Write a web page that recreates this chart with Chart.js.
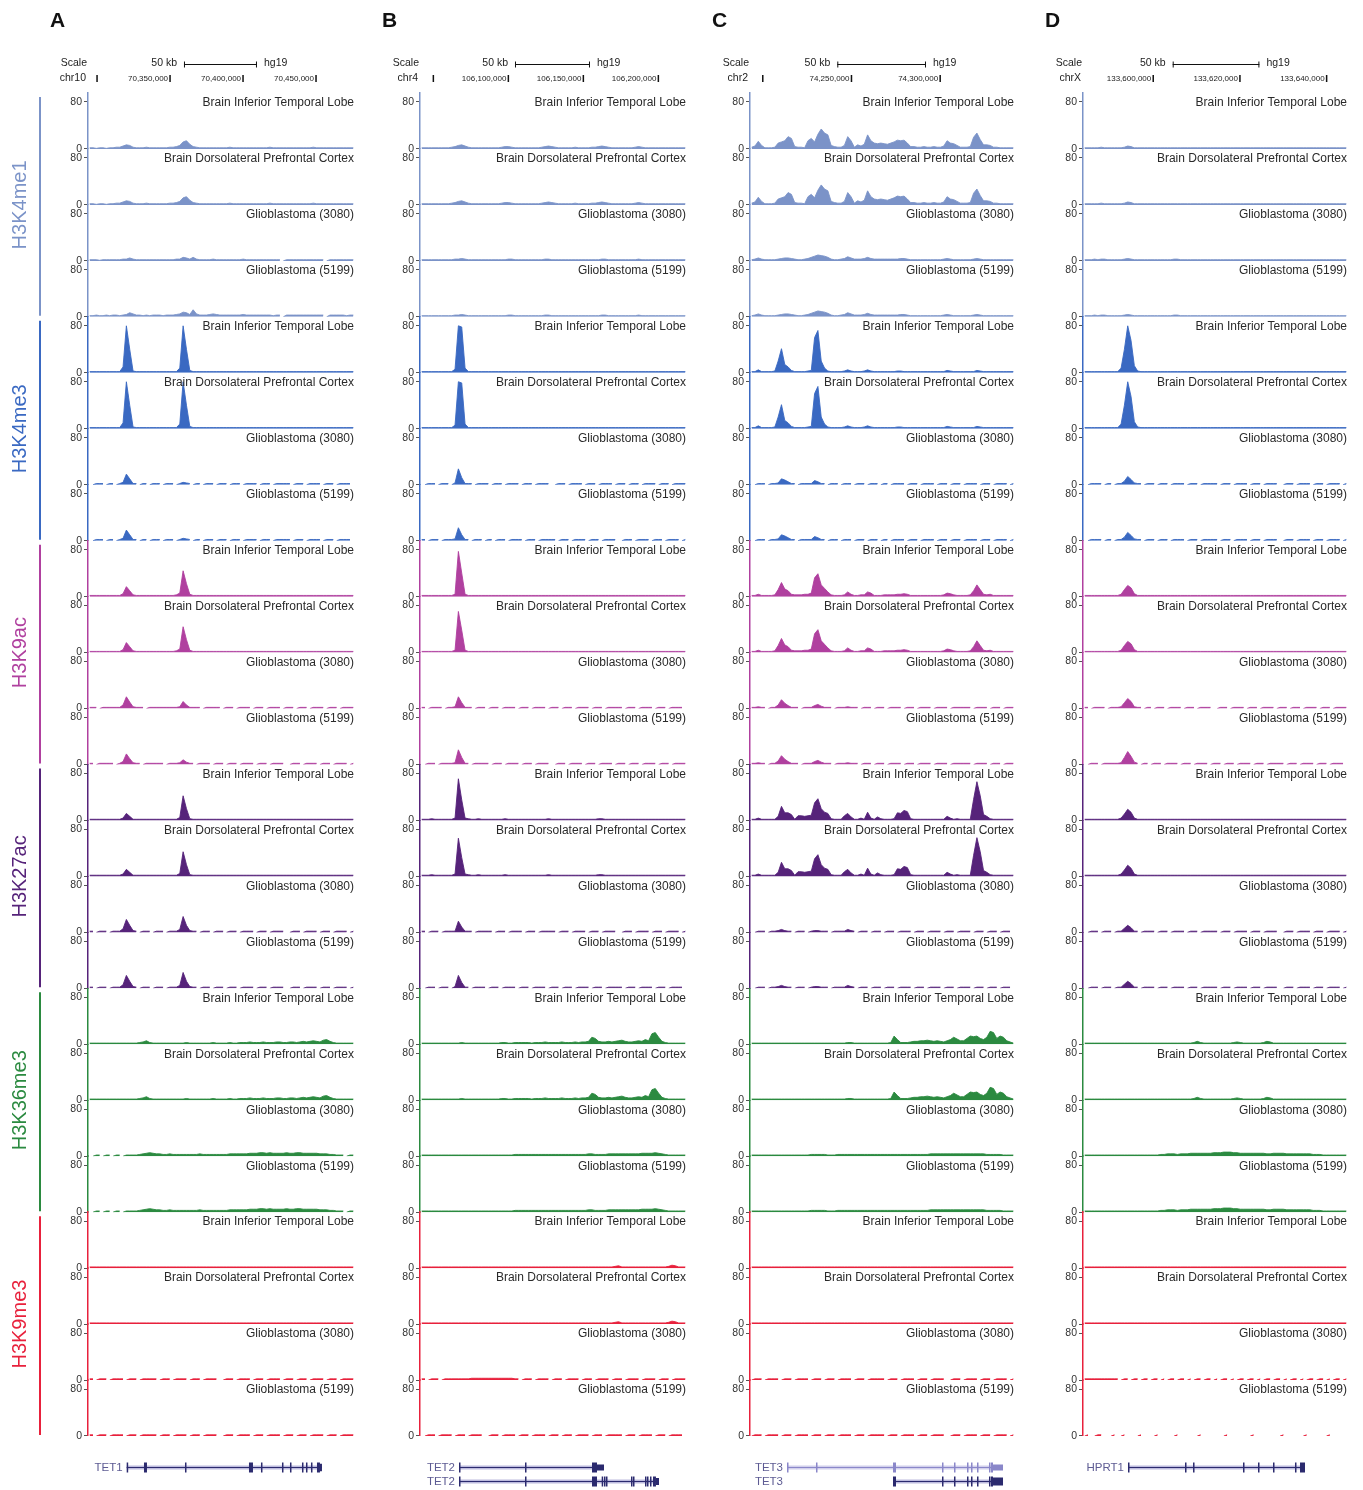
<!DOCTYPE html>
<html>
<head>
<meta charset="utf-8">
<title>Histone marks at TET1, TET2, TET3 and HPRT1</title>
<script src="https://cdn.jsdelivr.net/npm/chart.js@4.4.1/dist/chart.umd.min.js"></script>
<style>
  html, body { margin: 0; padding: 0; background: #ffffff; }
  #wrap { position: relative; width: 1363px; height: 1490px; overflow: hidden; }
  #wrap canvas { position: absolute; left: 0; top: 0; }
</style>
</head>
<body>
<div id="wrap">
  <canvas id="colA" width="1363" height="1490"></canvas>
  <canvas id="colB" width="1363" height="1490"></canvas>
  <canvas id="colC" width="1363" height="1490"></canvas>
  <canvas id="colD" width="1363" height="1490"></canvas>
</div>
<script>
// ---------------------------------------------------------------------------
// Labels
// ---------------------------------------------------------------------------
const marks = ['H3K4me1', 'H3K4me3', 'H3K9ac', 'H3K27ac', 'H3K36me3', 'H3K9me3'];
const samples = ['Brain Inferior Temporal Lobe', 'Brain Dorsolateral Prefrontal Cortex',
                 'Glioblastoma (3080)', 'Glioblastoma (5199)'];
const trackTicks = [0, 80];
const assembly = 'hg19';

// ---------------------------------------------------------------------------
// Signal, 80 equal bins across each window (A: TET1, B: TET2, C: TET3, D: HPRT1)
// ---------------------------------------------------------------------------
// ---- A / TET1 ----
const A_K4me1_brain = [
  2,2,1,2,2,1,2,2,3,3,5,7,6,3,2,2,2,3,2,2,
  2,2,2,2,3,3,4,6,12,14,8,4,3,2,2,2,2,2,2,2,
  2,2,3,2,2,2,2,2,2,2,2,2,2,2,3,2,2,2,2,2,
  2,2,2,2,2,2,2,3,2,2,2,2,2,2,2,2,2,2,2,2];
const A_K4me1_g3080 = [
  2,2,2,1,2,2,2,2,2,2,3,3,5,3,2,2,2,2,2,2,
  2,2,2,2,2,2,3,3,6,5,3,6,3,2,2,2,2,3,2,2,
  2,2,2,2,2,2,3,2,2,2,2,2,2,2,2,2,2,2,0,2,
  2,2,2,2,2,2,2,2,2,2,2,0,2,2,2,2,2,2,2,2];
const A_K4me1_g5199 = [
  2,2,3,2,2,3,2,3,3,2,3,4,7,5,3,3,2,3,2,3,
  3,3,2,3,3,3,4,5,8,7,4,12,5,3,3,3,4,5,4,3,
  3,3,3,3,3,3,4,3,3,3,3,3,3,3,3,2,3,3,0,3,
  3,3,3,3,3,3,3,3,3,3,3,0,3,3,3,3,3,2,3,3];
const A_K4me3_brain = [
  2,2,2,2,2,2,2,2,2,2,10,80,40,3,2,2,2,2,2,2,
  2,2,2,2,2,2,2,8,80,40,4,2,2,2,2,2,2,2,2,2,
  2,2,2,2,2,2,2,2,2,2,2,2,2,2,2,2,2,2,2,2,
  2,2,2,2,2,2,2,2,2,2,2,2,2,2,2,2,2,2,2,2];
const A_K4me3_gbm = [
  2,0,2,2,2,0,2,2,0,2,4,18,10,2,2,0,2,2,0,2,
  2,2,0,2,2,2,0,2,4,3,2,0,2,2,0,2,2,2,0,2,
  2,2,0,2,2,2,0,2,2,2,2,0,2,2,2,0,2,2,2,2,
  2,0,2,2,2,0,2,2,2,2,0,2,2,2,0,2,2,2,2,0];
const A_K9ac_brain = [
  2,2,2,2,2,2,2,2,2,2,5,17,10,3,2,2,2,2,2,2,
  2,2,2,2,2,2,3,6,44,22,4,2,2,2,2,2,2,2,2,2,
  2,2,2,2,2,2,2,2,2,2,2,2,2,2,2,2,2,2,2,2,
  2,2,2,2,2,2,2,2,2,2,2,2,2,2,2,2,2,2,2,2];
const A_K9ac_g3080 = [
  2,2,2,0,2,2,2,2,2,2,6,20,11,3,2,2,2,0,2,2,
  2,2,2,2,2,2,2,3,12,6,2,2,2,2,0,2,2,2,2,2,
  0,2,2,2,0,2,2,2,2,0,2,2,2,0,2,2,2,2,0,2,
  2,2,0,2,2,2,0,2,2,2,2,0,2,2,2,0,2,2,2,2];
const A_K9ac_g5199 = [
  2,2,0,2,2,2,2,2,0,2,5,18,10,3,2,2,0,2,2,2,
  2,2,2,0,2,2,2,3,8,4,2,2,0,2,2,2,2,0,2,2,
  2,0,2,2,2,0,2,2,2,2,0,2,2,2,0,2,2,2,2,0,
  0,2,2,2,0,2,2,2,2,0,2,2,2,0,2,2,2,2,0,2];
const A_K27ac_brain = [
  2,2,2,2,2,2,2,2,2,2,4,12,7,2,2,2,2,2,2,2,
  2,2,2,2,2,2,2,5,42,20,3,2,2,2,2,2,2,2,2,2,
  2,2,2,2,2,2,2,2,2,2,2,2,2,2,2,2,2,2,2,2,
  2,2,2,2,2,2,2,2,2,2,2,2,2,2,2,2,2,2,2,2];
const A_K27ac_gbm = [
  2,2,0,2,2,2,0,2,2,2,6,22,12,3,2,0,2,2,2,0,
  2,2,2,0,2,2,2,5,27,12,3,2,2,0,2,2,2,0,2,2,
  2,0,2,2,2,0,2,2,2,2,0,2,2,2,0,2,2,2,2,0,
  0,2,2,2,0,2,2,2,2,0,2,2,2,0,2,2,2,2,0,2];
const A_K36me3_brain = [
  2,2,2,2,2,2,2,2,2,2,2,2,2,2,2,3,4,6,3,2,
  2,2,2,2,2,2,2,2,2,3,2,2,2,2,2,2,2,3,2,2,
  2,2,3,2,2,3,3,3,4,3,3,3,4,3,3,3,4,4,3,3,
  4,4,3,4,5,4,5,6,5,4,7,8,5,3,2,2,2,2,2,2];
const A_K36me3_gbm = [
  2,0,2,2,0,2,2,0,2,2,0,2,2,2,2,3,4,5,6,5,
  4,4,3,3,4,3,3,3,3,3,3,3,3,4,3,3,3,3,3,3,
  3,3,4,4,4,4,4,4,5,5,5,6,6,5,6,5,5,5,5,6,
  5,5,6,6,5,5,5,5,5,4,4,4,3,3,2,2,2,0,2,2];
const A_K9me3_brain = [
  2,2,2,2,2,2,2,2,2,2,2,2,2,2,2,2,2,2,2,2,
  2,2,2,2,2,2,2,2,2,2,2,2,2,2,2,2,2,2,2,2,
  2,2,2,2,2,2,2,2,2,2,2,2,2,2,2,2,2,2,2,2,
  2,2,2,2,2,2,2,2,2,2,2,2,2,2,2,2,2,2,2,2];
const A_K9me3_gbm = [
  2,2,0,2,2,2,0,2,2,2,2,0,2,2,2,0,2,2,2,2,
  2,0,2,2,2,0,2,2,2,2,0,2,2,2,0,2,2,2,2,0,
  0,2,2,2,0,2,2,2,2,0,2,2,2,0,2,2,2,2,0,2,
  2,2,0,2,2,2,0,2,2,2,2,0,2,2,2,0,2,2,2,2];

// ---- B / TET2 ----
const B_K4me1_brain = [
  2,2,2,2,2,2,2,2,2,3,4,6,7,5,3,2,2,2,2,2,
  2,2,2,2,3,4,4,3,2,2,2,2,2,2,2,2,3,4,5,4,
  3,2,2,2,2,2,3,2,2,2,2,3,3,4,5,4,3,2,2,2,
  2,2,2,2,3,4,3,2,2,2,2,2,2,2,2,2,2,2,2,2];
const B_K4me1_gbm = [
  2,2,2,2,2,2,2,2,2,2,3,3,4,3,2,2,2,2,2,2,
  2,2,2,2,2,2,3,3,2,2,2,2,2,2,2,2,2,3,3,2,
  2,2,2,2,2,2,2,2,2,2,2,2,2,2,3,3,2,2,2,2,
  2,2,2,2,2,3,2,2,2,2,2,2,2,2,2,2,2,2,2,2];
const B_K4me3_brain = [
  2,2,2,2,2,2,2,2,2,2,6,80,78,8,2,2,2,2,2,2,
  2,2,2,2,2,2,2,2,2,2,2,2,2,2,2,2,2,2,2,2,
  2,2,2,2,2,2,2,2,2,2,2,2,2,2,2,2,2,2,2,2,
  2,2,2,2,2,2,2,2,2,2,2,2,2,2,2,2,2,2,2,2];
const B_K4me3_g3080 = [
  2,0,2,2,2,0,2,2,2,0,3,27,12,2,2,2,0,2,2,2,
  2,0,2,2,2,0,2,2,2,2,0,2,2,2,0,2,2,2,2,0,
  0,2,2,2,0,2,2,2,2,0,2,2,2,0,2,2,2,2,0,2,
  2,2,0,2,2,2,0,2,2,2,2,0,2,2,2,0,2,2,2,2];
const B_K4me3_g5199 = [
  2,2,0,2,2,2,0,2,2,2,3,22,10,2,2,0,2,2,2,0,
  2,2,0,2,2,2,0,2,2,2,2,0,2,2,2,0,2,2,2,2,
  2,0,2,2,2,0,2,2,2,2,0,2,2,2,0,2,2,2,2,0,
  0,2,2,2,0,2,2,2,2,0,2,2,2,0,2,2,2,2,0,2];
const B_K9ac_itl = [
  2,2,2,2,2,2,2,2,2,2,4,77,40,4,2,2,2,2,2,2,
  2,2,2,2,2,2,2,2,2,2,2,2,2,2,2,2,2,2,2,2,
  2,2,2,2,2,2,2,2,2,2,2,2,2,2,2,2,2,2,2,2,
  2,2,2,2,2,2,2,2,2,2,2,2,2,2,2,2,2,2,2,2];
const B_K9ac_dlpfc = [
  2,2,2,2,2,2,2,2,2,2,4,70,38,4,2,2,2,2,2,2,
  2,2,2,2,2,2,2,2,2,2,2,2,2,2,2,2,2,2,2,2,
  2,2,2,2,2,2,2,2,2,2,2,2,2,2,2,2,2,2,2,2,
  2,2,2,2,2,2,2,2,2,2,2,2,2,2,2,2,2,2,2,2];
const B_K9ac_g3080 = [
  2,2,0,2,2,2,2,0,2,2,3,20,10,2,2,2,0,2,2,2,
  0,2,2,2,0,2,2,2,2,0,2,2,2,0,2,2,2,2,0,2,
  2,2,0,2,2,2,0,2,2,2,2,0,2,2,2,0,2,2,2,2,
  2,0,2,2,2,0,2,2,2,2,0,2,2,2,0,2,2,2,2,0];
const B_K9ac_g5199 = [
  2,0,2,2,2,0,2,2,2,2,3,25,12,2,2,0,2,2,2,2,
  2,0,2,2,2,0,2,2,2,2,0,2,2,2,0,2,2,2,2,0,
  0,2,2,2,0,2,2,2,2,0,2,2,2,0,2,2,2,2,0,2,
  2,2,0,2,2,2,0,2,2,2,2,0,2,2,2,0,2,2,2,2];
const B_K27ac_itl = [
  2,2,2,3,2,2,2,2,2,2,4,71,35,4,3,2,2,3,2,2,
  2,2,2,2,2,3,2,2,2,2,2,2,2,2,2,2,2,2,3,2,
  2,2,2,2,2,2,2,2,2,2,2,2,2,3,3,2,2,2,2,2,
  2,2,2,2,2,2,2,2,2,2,2,2,2,2,2,2,2,2,2,2];
const B_K27ac_dlpfc = [
  2,2,2,3,2,2,2,2,2,2,4,65,32,4,3,2,2,3,2,2,
  2,2,2,2,2,3,2,2,2,2,2,2,2,2,2,2,2,2,3,2,
  2,2,2,2,2,2,2,2,2,2,2,2,2,3,3,2,2,2,2,2,
  2,2,2,2,2,2,2,2,2,2,2,2,2,2,2,2,2,2,2,2];
const B_K27ac_g3080 = [
  2,2,0,2,2,2,0,2,2,2,2,19,9,2,2,2,0,2,2,2,
  2,2,0,2,2,2,0,2,2,2,2,0,2,2,2,0,2,2,2,2,
  2,0,2,2,2,0,2,2,2,2,0,2,2,2,0,2,2,2,2,0,
  0,2,2,2,0,2,2,2,2,0,2,2,2,0,2,2,2,2,0,2];
const B_K27ac_g5199 = [
  2,0,2,2,2,0,2,2,2,0,3,22,10,2,2,0,2,2,2,2,
  0,2,2,2,0,2,2,2,2,0,2,2,2,0,2,2,2,2,0,2,
  2,2,0,2,2,2,0,2,2,2,2,0,2,2,2,0,2,2,2,2,
  2,0,2,2,2,0,2,2,2,2,0,2,2,2,0,2,2,2,2,0];
const B_K36me3_brain = [
  2,2,2,2,2,2,2,2,2,2,2,2,3,2,2,2,2,2,2,2,
  2,2,2,2,3,3,2,2,3,3,3,3,3,2,3,3,3,4,3,3,
  3,3,4,3,3,3,4,3,4,4,5,12,10,5,4,4,5,4,5,6,
  7,5,4,4,5,6,5,8,6,18,20,12,5,3,2,2,2,2,2,2];
const B_K36me3_gbm = [
  2,2,2,2,2,2,2,2,2,2,2,2,2,2,2,2,2,2,2,2,
  2,2,2,2,2,2,2,2,3,3,3,3,3,3,3,3,3,3,3,3,
  3,3,3,3,3,3,3,3,3,3,4,4,3,3,3,3,4,4,4,4,
  4,4,4,4,4,4,5,5,5,5,6,5,4,3,2,2,2,2,2,2];
const B_K9me3_brain = [
  2,2,2,2,2,2,2,2,2,2,2,2,2,2,2,2,2,2,2,2,
  2,2,2,2,2,2,2,2,2,2,2,2,2,2,2,2,2,2,2,2,
  2,2,2,2,2,2,2,2,2,2,2,2,2,2,2,2,2,2,3,4,
  2,2,2,2,2,2,2,2,2,2,2,2,2,2,3,5,4,2,2,2];
const B_K9me3_g3080 = [
  2,2,0,2,2,2,0,2,2,2,2,2,2,2,2,3,3,3,3,3,
  3,3,3,3,3,3,3,3,2,2,0,2,2,2,0,2,2,2,2,0,
  2,2,2,0,2,2,2,2,0,2,2,2,0,2,2,2,2,0,2,2,
  2,0,2,2,2,2,0,2,2,2,2,0,2,2,2,0,2,2,2,2];
const B_K9me3_g5199 = [
  2,0,2,2,2,0,2,2,2,2,0,2,2,2,0,2,2,2,2,0,
  0,2,2,2,0,2,2,2,2,0,2,2,2,0,2,2,2,2,0,2,
  2,2,0,2,2,2,0,2,2,2,2,0,2,2,2,0,2,2,2,2,
  2,0,2,2,2,0,2,2,2,2,0,2,2,2,0,2,2,2,2,0];

// ---- C / TET3 ----
const C_K4me1_brain = [
  3,5,13,6,2,2,2,3,10,12,14,21,18,4,3,3,2,14,18,12,
  25,34,27,24,6,4,3,3,6,21,14,3,7,5,8,24,14,10,9,10,
  9,8,10,12,15,14,15,10,4,4,3,3,4,3,3,4,3,3,5,14,
  10,9,6,3,3,3,4,20,27,16,7,7,6,3,3,2,2,2,2,2];
const C_K4me1_gbm = [
  2,3,5,3,2,2,2,2,3,4,5,5,4,3,2,2,3,4,6,8,
  10,9,8,6,3,2,2,3,4,7,5,3,3,3,4,6,4,3,3,3,
  3,3,3,3,3,4,4,3,2,2,2,2,2,2,2,2,2,2,3,4,
  3,2,2,2,2,2,2,3,4,3,2,2,2,2,2,2,2,2,2,2];
const C_K4me3_brain = [
  2,2,5,2,2,2,2,3,20,41,14,10,4,2,2,2,2,3,4,60,
  72,20,8,3,2,2,2,2,3,5,3,2,2,2,3,5,3,2,2,2,
  2,2,2,2,3,3,2,2,2,2,2,2,2,2,2,2,2,2,2,4,
  3,2,2,2,2,2,2,2,4,3,2,2,2,2,2,2,2,2,2,2];
const C_K4me3_gbm = [
  2,0,2,2,2,0,2,2,3,10,8,5,2,2,0,2,2,2,2,7,
  5,2,2,0,2,2,2,0,2,2,2,0,2,2,2,0,2,2,2,0,
  2,2,0,2,2,2,2,0,2,2,2,0,2,2,2,2,0,2,2,2,
  0,2,2,2,0,2,2,2,2,0,2,2,2,0,2,2,2,2,0,2];
const C_K9ac_brain = [
  2,2,4,2,2,2,2,3,12,24,13,10,4,3,3,3,4,4,6,32,
  39,20,14,8,3,2,2,2,3,8,4,2,2,3,3,8,6,2,2,2,
  3,3,3,3,4,4,5,4,2,2,2,2,2,2,2,2,2,2,3,6,
  5,3,2,2,2,2,3,10,20,12,4,3,4,2,2,2,2,2,2,2];
const C_K9ac_gbm = [
  2,2,3,2,2,0,2,2,6,15,9,5,2,2,2,0,2,2,2,5,
  7,4,2,2,2,0,2,2,2,3,2,2,2,0,2,2,2,0,2,2,
  2,0,2,2,2,2,0,2,2,2,0,2,2,2,2,0,2,2,2,2,
  0,2,2,2,2,2,2,0,2,2,2,2,0,2,2,2,0,2,2,2];
const C_K27ac_brain = [
  2,2,4,2,2,2,2,2,7,24,13,13,10,2,8,8,7,8,9,30,
  37,20,14,12,3,2,2,2,8,12,6,2,2,4,2,14,4,2,6,3,
  2,2,2,3,13,12,17,15,3,2,2,2,2,2,2,2,2,2,2,7,
  4,2,3,2,2,2,2,36,66,42,10,7,3,2,2,2,2,2,2,2];
const C_K27ac_gbm = [
  2,0,2,2,2,0,2,2,3,5,3,2,2,0,2,2,2,0,2,3,
  3,2,2,2,0,2,2,2,2,5,3,2,0,2,2,2,0,2,2,2,
  0,2,2,2,0,2,2,2,2,0,2,2,2,0,2,2,2,2,0,2,
  2,2,0,2,2,2,2,0,2,2,2,0,2,2,2,0,2,2,2,0];
const C_K36me3_brain = [
  2,2,2,2,2,2,2,2,2,2,2,2,2,2,2,2,2,2,2,2,
  2,2,2,2,2,2,2,2,2,3,3,2,2,2,2,2,2,2,2,2,
  2,2,3,14,8,3,3,3,4,5,5,6,6,7,6,5,6,5,4,6,
  8,12,9,6,6,10,14,13,14,10,8,12,22,20,10,14,12,6,4,2];
const C_K36me3_gbm = [
  2,2,2,2,2,2,2,2,2,2,2,2,2,2,2,2,2,2,3,3,
  3,3,3,2,2,2,3,3,3,3,3,3,3,3,3,3,3,3,3,3,
  3,3,3,3,3,3,3,3,3,3,3,3,3,3,4,4,4,4,4,4,
  4,4,4,4,4,4,4,4,4,4,4,3,3,3,3,3,2,2,2,2];
const C_K9me3_brain = [
  2,2,2,2,2,2,2,2,2,2,2,2,2,2,2,2,2,2,2,2,
  2,2,2,2,2,2,2,2,2,2,2,2,2,2,2,2,2,2,2,2,
  2,2,2,2,2,2,2,2,2,2,2,2,2,2,2,2,2,2,2,2,
  2,2,2,2,2,2,2,2,2,2,2,2,2,2,2,2,2,2,2,2];
const C_K9me3_gbm = [
  0,2,2,2,0,2,2,2,2,0,2,2,2,0,2,2,2,2,0,2,
  2,2,0,2,2,2,0,2,2,2,2,0,2,2,2,0,2,2,2,2,
  2,0,2,2,2,0,2,2,2,2,0,2,2,2,0,2,2,2,2,0,
  0,2,2,2,0,2,2,2,2,0,2,2,2,0,2,2,2,2,0,2];

// ---- D / HPRT1 ----
const D_K4me1_brain = [
  2,2,2,2,2,3,2,2,2,2,2,2,3,5,4,2,2,2,2,2,
  2,2,2,2,2,2,2,2,2,2,2,2,2,2,2,2,2,2,2,2,
  2,2,2,2,2,2,2,2,2,2,2,2,2,2,2,2,2,2,2,2,
  2,2,2,2,2,2,2,2,2,2,2,2,2,2,2,2,2,2,2,2];
const D_K4me1_gbm = [
  2,2,2,3,2,3,3,2,2,2,2,2,3,4,3,2,2,2,2,2,
  2,2,2,2,2,2,2,3,3,2,2,2,2,2,2,2,2,2,2,2,
  2,2,2,2,2,2,2,2,2,2,2,2,2,2,2,2,2,2,2,2,
  2,2,2,2,2,2,2,2,2,2,2,2,2,2,2,2,2,2,2,2];
const D_K4me3_brain = [
  2,2,2,2,2,2,2,2,2,2,2,8,40,80,55,12,3,2,2,2,
  2,2,2,2,2,2,2,2,2,2,2,2,2,2,2,2,2,2,2,2,
  2,2,2,2,2,2,2,2,2,2,2,2,2,2,2,2,2,2,2,2,
  2,2,2,2,2,2,2,2,2,2,2,2,2,2,2,2,2,2,2,2];
const D_K4me3_gbm = [
  2,0,2,2,2,2,0,2,2,0,2,2,6,14,9,3,2,2,0,2,
  2,2,0,2,2,2,0,2,2,2,2,0,2,2,2,0,2,2,2,2,
  2,0,2,2,2,0,2,2,2,2,0,2,2,2,0,2,2,2,2,0,
  0,2,2,2,0,2,2,2,2,0,2,2,2,0,2,2,2,2,0,2];
const D_K9ac_brain = [
  2,2,2,2,2,2,2,2,2,2,2,4,12,19,15,5,2,2,2,2,
  2,2,2,2,2,2,2,2,2,2,2,2,2,2,2,2,2,2,2,2,
  2,2,2,2,2,2,2,2,2,2,2,2,2,2,2,2,2,2,2,2,
  2,2,2,2,2,2,2,2,2,2,2,2,2,2,2,2,2,2,2,2];
const D_K9ac_g3080 = [
  2,2,0,2,2,2,2,0,2,2,2,3,10,17,12,3,2,2,0,2,
  2,0,2,2,2,0,2,2,2,2,0,2,2,2,0,2,2,2,2,0,
  0,2,2,2,0,2,2,2,2,0,2,2,2,0,2,2,2,2,0,2,
  2,2,0,2,2,2,0,2,2,2,2,0,2,2,2,0,2,2,2,2];
const D_K9ac_g5199 = [
  2,0,2,2,2,0,2,2,2,2,2,3,12,22,14,4,2,0,2,2,
  0,2,2,2,0,2,2,2,2,0,2,2,2,0,2,2,2,2,0,2,
  2,2,0,2,2,2,0,2,2,2,2,0,2,2,2,0,2,2,2,2,
  2,0,2,2,2,0,2,2,2,2,0,2,2,2,0,2,2,2,2,0];
const D_K27ac_brain = [
  2,2,2,2,2,2,2,2,2,2,2,4,11,19,14,4,2,2,2,2,
  2,2,2,2,2,2,2,2,2,2,2,2,2,2,2,2,2,2,2,2,
  2,2,2,2,2,2,2,2,2,2,2,2,2,2,2,2,2,2,2,2,
  2,2,2,2,2,2,2,2,2,2,2,2,2,2,2,2,2,2,2,2];
const D_K27ac_gbm = [
  2,0,2,2,2,0,2,2,2,0,2,2,7,12,8,2,2,0,2,2,
  2,2,0,2,2,2,0,2,2,2,2,0,2,2,2,0,2,2,2,2,
  2,0,2,2,2,0,2,2,2,2,0,2,2,2,0,2,2,2,2,0,
  0,2,2,2,0,2,2,2,2,0,2,2,2,0,2,2,2,2,0,2];
const D_K36me3_brain = [
  2,2,2,2,2,2,2,2,2,2,2,2,2,2,2,2,2,2,2,2,
  2,2,2,2,2,2,2,2,2,2,2,2,2,3,5,3,2,2,2,2,
  2,2,2,2,2,3,4,3,2,2,2,2,2,2,3,5,4,2,2,2,
  2,2,2,2,2,2,2,2,2,2,2,2,2,2,2,2,2,2,2,2];
const D_K36me3_gbm = [
  2,2,2,2,2,2,2,2,2,2,2,2,2,2,2,2,2,2,2,2,
  2,2,2,3,3,4,4,4,3,4,4,4,5,5,5,5,5,5,5,6,
  6,6,7,7,7,6,6,5,5,5,5,5,5,5,5,4,4,5,5,5,
  5,4,4,4,4,4,4,4,4,3,3,3,2,2,2,2,2,2,2,2];
const D_K9me3_brain = [
  2,2,2,2,2,2,2,2,2,2,2,2,2,2,2,2,2,2,2,2,
  2,2,2,2,2,2,2,2,2,2,2,2,2,2,2,2,2,2,2,2,
  2,2,2,2,2,2,2,2,2,2,2,2,2,2,2,2,2,2,2,2,
  2,2,2,2,2,2,2,2,2,2,2,2,2,2,2,2,2,2,2,2];
const D_K9me3_g3080 = [
  2,2,2,2,2,2,2,2,2,2,2,0,2,2,0,2,2,0,2,2,
  0,2,2,0,2,0,2,2,0,2,2,0,2,0,2,2,0,2,2,0,
  2,0,2,2,0,2,0,2,2,0,2,2,0,2,0,2,2,0,2,2,
  0,2,0,2,2,0,2,0,2,2,0,2,2,0,2,0,2,2,0,2];
const D_K9me3_g5199 = [
  0,2,0,0,2,2,0,0,0,2,0,0,2,0,0,0,0,2,0,0,
  0,0,2,0,0,0,0,0,2,0,0,0,0,0,0,2,0,0,0,0,
  0,0,0,2,0,0,0,0,0,0,0,2,0,0,0,0,0,0,0,0,
  2,0,0,0,0,0,0,2,0,0,0,0,0,0,2,0,0,0,0,0];

// ---------------------------------------------------------------------------
// Genomic windows, rulers and gene models (hg19 coordinates)
// ---------------------------------------------------------------------------
const A_window = ['chr10', 70293800, 70476700];
const B_window = ['chr4', 106041100, 106219100];
const C_window = ['chr2', 74192800, 74342180];
const D_window = ['chrX', 133583800, 133644930];

const A_ruler = [70300000, 70350000, 70400000, 70450000];
const A_rulerLabels = ['', '70,350,000', '70,400,000', '70,450,000'];
const B_ruler = [106050000, 106100000, 106150000, 106200000];
const B_rulerLabels = ['', '106,100,000', '106,150,000', '106,200,000'];
const C_ruler = [74200000, 74250000, 74300000];
const C_rulerLabels = ['', '74,250,000', '74,300,000'];
const D_ruler = [133600000, 133620000, 133640000];
const D_rulerLabels = ['133,600,000', '133,620,000', '133,640,000'];

// scale bar: [start, length], and its caption
const A_scaleBar = [70359550, 50000];
const B_scaleBar = [106104430, 50000];
const C_scaleBar = [74242010, 50000];
const D_scaleBar = [133604490, 20000];
const scaleBarLabel = '50 kb';

// gene models: exon blocks are [start, end, relative height]
const A_genes = [
  { name: 'TET1', row: 0, tone: 'dark', start: 70320300, end: 70454070,
    exons: [[70320300, 70320500, 1], [70332150, 70334200, 1], [70360240, 70360700, 1],
            [70404070, 70406810, 1], [70412290, 70412800, 1], [70426680, 70427200, 1],
            [70432160, 70432700, 1], [70440380, 70440900, 1], [70443120, 70443600, 1],
            [70446540, 70447000, 1], [70450650, 70452700, 1], [70452700, 70454070, 0.75]] }
];
const B_genes = [
  { name: 'TET2', row: 0, tone: 'dark', start: 106067100, end: 106163770,
    exons: [[106067100, 106067500, 1], [106111100, 106111500, 1],
            [106155770, 106159100, 1], [106159100, 106163770, 0.6]] },
  { name: 'TET2', row: 1, tone: 'dark', start: 106067100, end: 106200430,
    exons: [[106067100, 106067500, 1], [106111100, 106111500, 1], [106155770, 106159100, 1],
            [106162230, 106162700, 1], [106163770, 106164200, 1], [106165100, 106165500, 1],
            [106181770, 106182200, 1], [106183100, 106183500, 1], [106191100, 106191500, 1],
            [106192430, 106192900, 1], [106194430, 106194900, 1],
            [106196430, 106198400, 1], [106198400, 106200430, 0.7]] }
];
const C_genes = [
  { name: 'TET3', row: 0, tone: 'light', start: 74213660, end: 74335420,
    exons: [[74213660, 74214100, 1], [74230000, 74230400, 1], [74273410, 74275100, 1],
            [74301030, 74301400, 1], [74307790, 74308200, 1], [74315120, 74315500, 1],
            [74317380, 74317800, 1], [74320760, 74321200, 1], [74327520, 74327900, 1],
            [74328650, 74329780, 1], [74329780, 74335420, 0.6]] },
  { name: 'TET3', row: 1, tone: 'dark', start: 74273410, end: 74335420,
    exons: [[74273410, 74275100, 1],
            [74301030, 74301400, 1], [74307790, 74308200, 1], [74315120, 74315500, 1],
            [74317380, 74317800, 1], [74320760, 74321200, 1], [74327520, 74327900, 1],
            [74328650, 74329780, 1], [74329780, 74335420, 0.8]] }
];
const D_genes = [
  { name: 'HPRT1', row: 0, tone: 'dark', start: 133594180, end: 133635010,
    exons: [[133594180, 133594400, 1], [133607330, 133607600, 1], [133609180, 133609450, 1],
            [133620710, 133620950, 1], [133624170, 133624400, 1], [133627630, 133627850, 1],
            [133632700, 133632950, 1], [133633860, 133635010, 1]] }
];

// ---------------------------------------------------------------------------
// Styling
// ---------------------------------------------------------------------------
const FONT = '"Liberation Sans", Arial, Helvetica, sans-serif';
const markColors = ['#7b93c8', '#3a69c2', '#b0409f', '#56237a', '#2b8a40', '#e8213c'];
const geneColors = { dark: '#2b2a6e', light: '#8a87c9' };
const geneBand = { dark: '#bdbbde', light: '#d2d0ec' };
const HIDDEN = 'rgba(0,0,0,0)';
const AXIS_W = 30;          // width reserved for each stacked track axis
const Y_MAX = 95.3;         // headroom above 80 keeps a gap between tracks
const PLOT_TOP = 93, PLOT_BOTTOM = 1436;
const GENE_ROW_Y = [1467.5, 1481.5];

// ---------------------------------------------------------------------------
// Column assembly: four tracks (two brain regions, two tumours) per mark
// ---------------------------------------------------------------------------
const columns = [
  { canvas: 'colA', letter: 'A', win: A_window, left: 88, right: 355,
    ruler: A_ruler, rulerLabels: A_rulerLabels, bar: A_scaleBar, genes: A_genes, sidebar: true,
    tracks: [
      [A_K4me1_brain, A_K4me1_brain, A_K4me1_g3080, A_K4me1_g5199],
      [A_K4me3_brain, A_K4me3_brain, A_K4me3_gbm, A_K4me3_gbm],
      [A_K9ac_brain, A_K9ac_brain, A_K9ac_g3080, A_K9ac_g5199],
      [A_K27ac_brain, A_K27ac_brain, A_K27ac_gbm, A_K27ac_gbm],
      [A_K36me3_brain, A_K36me3_brain, A_K36me3_gbm, A_K36me3_gbm],
      [A_K9me3_brain, A_K9me3_brain, A_K9me3_gbm, A_K9me3_gbm]] },
  { canvas: 'colB', letter: 'B', win: B_window, left: 420, right: 687,
    ruler: B_ruler, rulerLabels: B_rulerLabels, bar: B_scaleBar, genes: B_genes, sidebar: false,
    tracks: [
      [B_K4me1_brain, B_K4me1_brain, B_K4me1_gbm, B_K4me1_gbm],
      [B_K4me3_brain, B_K4me3_brain, B_K4me3_g3080, B_K4me3_g5199],
      [B_K9ac_itl, B_K9ac_dlpfc, B_K9ac_g3080, B_K9ac_g5199],
      [B_K27ac_itl, B_K27ac_dlpfc, B_K27ac_g3080, B_K27ac_g5199],
      [B_K36me3_brain, B_K36me3_brain, B_K36me3_gbm, B_K36me3_gbm],
      [B_K9me3_brain, B_K9me3_brain, B_K9me3_g3080, B_K9me3_g5199]] },
  { canvas: 'colC', letter: 'C', win: C_window, left: 750, right: 1015,
    ruler: C_ruler, rulerLabels: C_rulerLabels, bar: C_scaleBar, genes: C_genes, sidebar: false,
    tracks: [
      [C_K4me1_brain, C_K4me1_brain, C_K4me1_gbm, C_K4me1_gbm],
      [C_K4me3_brain, C_K4me3_brain, C_K4me3_gbm, C_K4me3_gbm],
      [C_K9ac_brain, C_K9ac_brain, C_K9ac_gbm, C_K9ac_gbm],
      [C_K27ac_brain, C_K27ac_brain, C_K27ac_gbm, C_K27ac_gbm],
      [C_K36me3_brain, C_K36me3_brain, C_K36me3_gbm, C_K36me3_gbm],
      [C_K9me3_brain, C_K9me3_brain, C_K9me3_gbm, C_K9me3_gbm]] },
  { canvas: 'colD', letter: 'D', win: D_window, left: 1083, right: 1348,
    ruler: D_ruler, rulerLabels: D_rulerLabels, bar: D_scaleBar, genes: D_genes, sidebar: false,
    tracks: [
      [D_K4me1_brain, D_K4me1_brain, D_K4me1_gbm, D_K4me1_gbm],
      [D_K4me3_brain, D_K4me3_brain, D_K4me3_gbm, D_K4me3_gbm],
      [D_K9ac_brain, D_K9ac_brain, D_K9ac_g3080, D_K9ac_g5199],
      [D_K27ac_brain, D_K27ac_brain, D_K27ac_gbm, D_K27ac_gbm],
      [D_K36me3_brain, D_K36me3_brain, D_K36me3_gbm, D_K36me3_gbm],
      [D_K9me3_brain, D_K9me3_brain, D_K9me3_g3080, D_K9me3_g5199]] }
];

// ---------------------------------------------------------------------------
// Annotation layer: panel letter, ruler, track names, mark side bar, genes
// ---------------------------------------------------------------------------
function makeDecor(col) {
  return {
    id: 'decor' + col.letter,
    afterDraw(chart) {
      const ctx = chart.ctx;
      const area = chart.chartArea;
      const xs = chart.scales.x;
      const px = v => xs.getPixelForValue(v);
      ctx.save();

      // panel letter
      ctx.fillStyle = '#111';
      ctx.font = 'bold 21px ' + FONT;
      ctx.textAlign = 'left';
      ctx.textBaseline = 'middle';
      ctx.fillText(col.letter, area.left - 38, 21);

      // scale bar row
      ctx.font = '10.5px ' + FONT;
      ctx.fillStyle = '#222';
      ctx.textAlign = 'right';
      ctx.fillText('Scale', area.left - 1, 63);
      ctx.fillText(col.win[0], area.left - 2, 78);
      const b0 = px(col.bar[0]), b1 = px(col.bar[0] + col.bar[1]);
      ctx.fillText(scaleBarLabel, b0 - 7, 63);
      ctx.textAlign = 'left';
      ctx.fillText(assembly, b1 + 7, 63);
      ctx.strokeStyle = '#111';
      ctx.lineWidth = 1;
      ctx.beginPath();
      ctx.moveTo(b0, 64.5); ctx.lineTo(b1, 64.5);
      ctx.moveTo(b0 + 0.5, 61.5); ctx.lineTo(b0 + 0.5, 67.5);
      ctx.moveTo(b1 - 0.5, 61.5); ctx.lineTo(b1 - 0.5, 67.5);
      ctx.stroke();

      // coordinate ruler
      ctx.font = '8px ' + FONT;
      ctx.textAlign = 'right';
      col.ruler.forEach((pos, i) => {
        const x = px(pos);
        ctx.fillStyle = '#111';
        ctx.fillRect(x - 0.75, 75, 1.5, 7);
        if (col.rulerLabels[i]) {
          ctx.fillStyle = '#222';
          ctx.fillText(col.rulerLabels[i], x - 2, 79);
        }
      });

      // track names
      ctx.font = '12px ' + FONT;
      ctx.fillStyle = '#2a2a2a';
      ctx.textAlign = 'right';
      ctx.textBaseline = 'middle';
      for (let t = 0; t < marks.length * samples.length; t++) {
        const ys = chart.scales['y' + t];
        ctx.fillText(samples[t % samples.length], area.right - 1, ys.getPixelForValue(80) + 1);
      }

      // histone mark side bar
      if (col.sidebar) {
        marks.forEach((m, g) => {
          const top = chart.scales['y' + (g * 4)].top;
          const bottom = chart.scales['y' + (g * 4 + 3)].bottom;
          ctx.strokeStyle = markColors[g];
          ctx.lineWidth = 2;
          ctx.beginPath();
          ctx.moveTo(40, top + 4);
          ctx.lineTo(40, bottom - 1);
          ctx.stroke();
          ctx.save();
          ctx.translate(20, (top + bottom) / 2);
          ctx.rotate(-Math.PI / 2);
          ctx.font = '20px ' + FONT;
          ctx.fillStyle = markColors[g];
          ctx.textAlign = 'center';
          ctx.textBaseline = 'middle';
          ctx.fillText(m, 0, 0);
          ctx.restore();
        });
      }

      // gene models
      const labelX = px(Math.min(...col.genes.map(g => g.start))) - 4;
      col.genes.forEach(g => {
        const y = GENE_ROW_Y[g.row];
        const x0 = px(g.start), x1 = px(g.end);
        ctx.strokeStyle = geneBand[g.tone];
        ctx.lineWidth = 4;
        ctx.beginPath(); ctx.moveTo(x0, y); ctx.lineTo(x1, y); ctx.stroke();
        ctx.strokeStyle = geneColors[g.tone];
        ctx.lineWidth = 1;
        ctx.beginPath(); ctx.moveTo(x0, y); ctx.lineTo(x1, y); ctx.stroke();
        ctx.fillStyle = geneColors[g.tone];
        g.exons.forEach(([s, e, h]) => {
          const a = px(s);
          const b = Math.max(px(e), a + 1.5);
          const hh = 10 * h;
          ctx.fillRect(a, y - hh / 2, b - a, hh);
        });
        ctx.font = '11.5px ' + FONT;
        ctx.fillStyle = '#5d5b93';
        ctx.textAlign = 'right';
        ctx.textBaseline = 'middle';
        ctx.fillText(g.name, labelX, y + 0.5);
      });

      ctx.restore();
    }
  };
}

// ---------------------------------------------------------------------------
// One chart per column; the 24 track axes are stacked on the left
// ---------------------------------------------------------------------------
// a bin with no coverage leaves a gap in the profile
const gapStyle = c => (c.p1.parsed.y === 0 ? HIDDEN : undefined);

function buildColumn(col) {
  const [chrom, start, end] = col.win;
  const datasets = [];
  const scales = { x: { type: 'linear', min: start, max: end, display: false } };
  const flat = [];
  col.tracks.forEach((group, g) => group.forEach(arr => flat.push({ arr, g })));
  const nTracks = flat.length;

  flat.forEach(({ arr, g }, t) => {
    const step = (end - start) / arr.length;
    const id = 'y' + t;
    datasets.push({
      label: marks[g] + ' / ' + samples[t % samples.length],
      data: arr.map((v, i) => ({ x: start + (i + 0.5) * step, y: v })),
      xAxisID: 'x',
      yAxisID: id,
      backgroundColor: markColors[g],
      borderColor: markColors[g],
      borderWidth: 0.9,
      fill: 'origin',
      pointRadius: 0,
      pointHoverRadius: 0,
      tension: 0,
      segment: { borderColor: gapStyle, backgroundColor: gapStyle }
    });
    scales[id] = {
      type: 'linear',
      position: 'left',
      stack: 'tracks',
      stackWeight: 1,
      weight: nTracks - t,
      min: 0,
      max: Y_MAX,
      afterBuildTicks: s => { s.ticks = trackTicks.map(v => ({ value: v })); },
      afterFit: s => { s.width = AXIS_W; },
      ticks: { autoSkip: false, padding: 2, color: '#333', font: { family: FONT, size: 10.5 } },
      grid: { drawOnChartArea: false, drawTicks: true, tickLength: 4, tickColor: '#555', tickWidth: 1 },
      border: { display: true, color: markColors[g], width: 1.5 }
    };
  });

  return new Chart(document.getElementById(col.canvas), {
    type: 'line',
    data: { datasets },
    options: {
      responsive: false,
      maintainAspectRatio: false,
      animation: false,
      devicePixelRatio: 1,
      events: [],
      layout: { padding: { left: col.left - AXIS_W, right: 1363 - col.right, top: PLOT_TOP, bottom: 1490 - PLOT_BOTTOM } },
      plugins: { legend: { display: false }, tooltip: { enabled: false } },
      scales
    },
    plugins: [makeDecor(col)]
  });
}

columns.forEach(buildColumn);
</script>
</body>
</html>
